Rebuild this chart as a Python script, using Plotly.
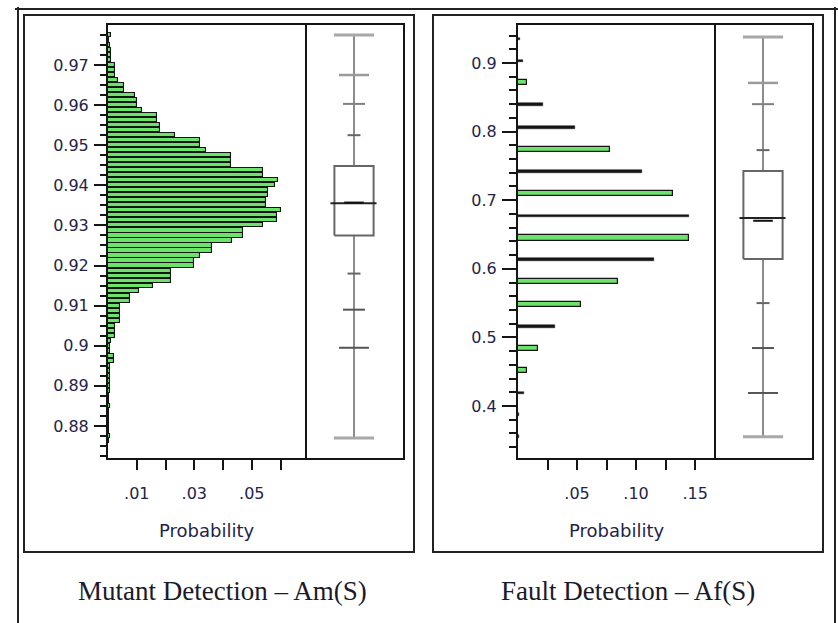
import plotly.graph_objects as go

# ---------------- data ----------------
# Mutant detection Am(S): histogram bins (centres) and probabilities
am_bins = [0.97750, 0.97625, 0.97500, 0.97375, 0.97250, 0.97125, 0.97000, 0.96875,
           0.96750, 0.96625, 0.96500, 0.96375, 0.96250, 0.96125, 0.96000, 0.95875,
           0.95750, 0.95625, 0.95500, 0.95375, 0.95250, 0.95125, 0.95000, 0.94875,
           0.94750, 0.94625, 0.94500, 0.94375, 0.94250, 0.94125, 0.94000, 0.93875,
           0.93750, 0.93625, 0.93500, 0.93375, 0.93250, 0.93125, 0.93000, 0.92875,
           0.92750, 0.92625, 0.92500, 0.92375, 0.92250, 0.92125, 0.92000, 0.91875,
           0.91750, 0.91625, 0.91500, 0.91375, 0.91250, 0.91125, 0.91000, 0.90875,
           0.90750, 0.90625, 0.90500, 0.90375, 0.90250, 0.90125, 0.90000, 0.89875,
           0.89750, 0.89625, 0.89500, 0.89375, 0.89250, 0.89125, 0.89000, 0.88875,
           0.88750, 0.88625, 0.88500, 0.88375, 0.88250, 0.88125, 0.88000, 0.87875,
           0.87750, 0.87625]
am_prob = [0.0012, 0.0004, 0.0008, 0.0010, 0.0010, 0.0012, 0.0024, 0.0024,
           0.0024, 0.0035, 0.0055, 0.0055, 0.0094, 0.0100, 0.0100, 0.0117,
           0.0170, 0.0170, 0.0180, 0.0180, 0.0234, 0.0320, 0.0320, 0.0340,
           0.0427, 0.0427, 0.0427, 0.0540, 0.0540, 0.0590, 0.0580, 0.0557,
           0.0557, 0.0550, 0.0550, 0.0600, 0.0587, 0.0587, 0.0540, 0.0470,
           0.0470, 0.0430, 0.0360, 0.0360, 0.0320, 0.0300, 0.0300, 0.0220,
           0.0220, 0.0220, 0.0157, 0.0108, 0.0076, 0.0076, 0.0041, 0.0041,
           0.0041, 0.0041, 0.0024, 0.0024, 0.0024, 0.0012, 0.0007, 0.0007,
           0.0020, 0.0020, 0.0008, 0.0006, 0.0008, 0.0006, 0.0008, 0.0008,
           0.0004, 0.0004, 0.0008, 0.0004, 0.0004, 0.0004, 0.0004, 0.0004,
           0.0008, 0.0004]
# quantiles: max, 99.5%, 97.5%, 90%, Q3, median, Q1, 10%, 2.5%, 0.5%, min
am_quant = [0.9775, 0.9675, 0.9603, 0.9525, 0.9448, 0.9355, 0.9275, 0.9180, 0.9090, 0.8995, 0.8770]
am_mean = 0.9357

# Fault detection Af(S)
af_bins = [0.935, 0.903, 0.871, 0.839, 0.806, 0.774, 0.742, 0.710, 0.677, 0.645,
           0.613, 0.581, 0.548, 0.516, 0.484, 0.452, 0.419, 0.387, 0.355]
af_prob = [0.002, 0.004, 0.008, 0.021, 0.048, 0.078, 0.105, 0.131, 0.145, 0.145,
           0.115, 0.085, 0.053, 0.031, 0.017, 0.008, 0.005, 0.001, 0.001]
af_quant = [0.938, 0.871, 0.840, 0.773, 0.7426, 0.674, 0.6143, 0.550, 0.4845, 0.419, 0.355]
af_mean = 0.670

# tick labels
am_yticks = [0.88, 0.89, 0.90, 0.91, 0.92, 0.93, 0.94, 0.95, 0.96, 0.97]
am_ytext = ["0.88", "0.89", "0.9", "0.91", "0.92", "0.93", "0.94", "0.95", "0.96", "0.97"]
am_xticks = [0.01, 0.02, 0.03, 0.04, 0.05, 0.06]
am_xtext = [".01", "", ".03", "", ".05", ""]
af_yticks = [0.4, 0.5, 0.6, 0.7, 0.8, 0.9]
af_ytext = ["0.4", "0.5", "0.6", "0.7", "0.8", "0.9"]
af_xticks = [0.025, 0.05, 0.075, 0.10, 0.125, 0.15]
af_xtext = ["", ".05", "", ".10", "", ".15"]

captions = ["Mutant Detection \u2013 Am(S)", "Fault Detection \u2013 Af(S)"]
xlabel = "Probability"

# ---------------- styling ----------------
W, H = 838, 623
GREEN = "#6ce46c"
DARK = "#151515"
af_bar_style = ["dark", "dark", "green", "dark", "dark", "green", "dark", "green", "dark", "green",
                "dark", "green", "green", "dark", "green", "green", "dark", "dark", "dark"]
TICKFONT = dict(family="DejaVu Sans", size=16, color="#23234a")


def px(x):
    return x / W


def py(y):
    return 1 - y / H


fig = go.Figure()

# left histogram
fig.add_trace(go.Bar(x=am_prob, y=am_bins, orientation="h", width=0.00125 * 0.82,
                     marker=dict(color=GREEN, line=dict(color=DARK, width=1.1)),
                     xaxis="x", yaxis="y", showlegend=False))

# right histogram (two drawing styles)
g_y = [b for b, s in zip(af_bins, af_bar_style) if s == "green"]
g_x = [p for p, s in zip(af_prob, af_bar_style) if s == "green"]
d_y = [b for b, s in zip(af_bins, af_bar_style) if s == "dark"]
d_x = [p for p, s in zip(af_prob, af_bar_style) if s == "dark"]
fig.add_trace(go.Bar(x=g_x, y=g_y, orientation="h", width=0.0075,
                     marker=dict(color=GREEN, line=dict(color=DARK, width=1.2)),
                     xaxis="x3", yaxis="y3", showlegend=False))
fig.add_trace(go.Bar(x=d_x, y=d_y, orientation="h", width=0.0042,
                     marker=dict(color=DARK, line=dict(color=DARK, width=0.5)),
                     xaxis="x3", yaxis="y3", showlegend=False))


def add_quantile_box(q, mean, xa, ya):
    mx, q995, q975, q90, q3, med, q1, q10, q025, q005, mn = q
    c = 0.5
    # whiskers
    fig.add_trace(go.Scatter(x=[c, c, None, c, c], y=[mx, q3, None, q1, mn], mode="lines",
                             line=dict(color="#8c8c8c", width=2), xaxis=xa, yaxis=ya,
                             showlegend=False, hoverinfo="skip"))
    # quantile hash marks
    hw = [(mx, 0.205, "#a8a8a8", 3), (q995, 0.153, "#9a9a9a", 2.5), (q975, 0.112, "#808080", 2),
          (q90, 0.066, "#666666", 2), (q10, 0.066, "#666666", 2), (q025, 0.112, "#555555", 2),
          (q005, 0.153, "#555555", 2), (mn, 0.205, "#a8a8a8", 3)]
    for v, w, col, lw in hw:
        fig.add_trace(go.Scatter(x=[c - w, c + w], y=[v, v], mode="lines",
                                 line=dict(color=col, width=lw), xaxis=xa, yaxis=ya,
                                 showlegend=False, hoverinfo="skip"))
    # box
    bw = 0.2
    fig.add_trace(go.Scatter(x=[c - bw, c + bw, c + bw, c - bw, c - bw], y=[q1, q1, q3, q3, q1],
                             mode="lines", line=dict(color="#666666", width=2), xaxis=xa, yaxis=ya,
                             showlegend=False, hoverinfo="skip"))
    # median
    fig.add_trace(go.Scatter(x=[c - bw - 0.04, c + bw + 0.03], y=[med, med], mode="lines",
                             line=dict(color="#222222", width=2), xaxis=xa, yaxis=ya,
                             showlegend=False, hoverinfo="skip"))
    # mean
    fig.add_trace(go.Scatter(x=[c - 0.1, c + 0.1], y=[mean, mean], mode="lines",
                             line=dict(color="#111111", width=2), xaxis=xa, yaxis=ya,
                             showlegend=False, hoverinfo="skip"))


add_quantile_box(am_quant, am_mean, "x2", "y2")
add_quantile_box(af_quant, af_mean, "x4", "y4")

ydom = [py(458), py(25)]
am_yrange = [0.87202, 0.97997]
af_yrange = [0.3242, 0.9554]

line_common = dict(showline=True, linewidth=2, linecolor=DARK, mirror=True,
                   showgrid=False, zeroline=False)
box_x = dict(showline=True, linewidth=2, linecolor=DARK, mirror=True, showgrid=False,
             zeroline=False, showticklabels=False, ticks="", range=[0, 1])
box_y = dict(showline=True, linewidth=2, linecolor=DARK, mirror=False, side="right",
             showgrid=False, zeroline=False, showticklabels=False, ticks="")

fig.update_layout(
    width=W, height=H, margin=dict(l=0, r=0, t=0, b=0), autosize=False,
    paper_bgcolor="white", plot_bgcolor="white", bargap=0,
    xaxis=dict(domain=[px(108), px(305)], anchor="y", range=[0, 0.0685], **line_common,
               ticks="outside", ticklen=10, tickwidth=2, tickcolor=DARK,
               tickmode="array", tickvals=am_xticks, ticktext=am_xtext,
               tickfont=TICKFONT, ticklabelstandoff=10),
    yaxis=dict(domain=ydom, anchor="x", range=am_yrange, **line_common,
               ticks="outside", ticklen=12, tickwidth=2, tickcolor=DARK,
               tickmode="array", tickvals=am_yticks, ticktext=am_ytext,
               tickfont=TICKFONT, ticklabelstandoff=2,
               minor=dict(ticks="outside", ticklen=6, tickwidth=2, tickcolor=DARK,
                          tickmode="linear", tick0=0.88, dtick=0.0025, showgrid=False)),
    xaxis2=dict(domain=[px(305), px(403)], anchor="y2", **box_x),
    yaxis2=dict(domain=ydom, anchor="x2", range=am_yrange, **box_y),
    xaxis3=dict(domain=[px(518), px(714)], anchor="y3", range=[0, 0.166], **line_common,
                ticks="outside", ticklen=10, tickwidth=2, tickcolor=DARK,
                tickmode="array", tickvals=af_xticks, ticktext=af_xtext,
                tickfont=TICKFONT, ticklabelstandoff=10),
    yaxis3=dict(domain=ydom, anchor="x3", range=af_yrange, **line_common,
                ticks="outside", ticklen=14, tickwidth=2, tickcolor=DARK,
                tickmode="array", tickvals=af_yticks, ticktext=af_ytext,
                tickfont=TICKFONT, ticklabelstandoff=2,
                minor=dict(ticks="outside", ticklen=7, tickwidth=2, tickcolor=DARK,
                           tickmode="linear", tick0=0.4, dtick=0.02, showgrid=False)),
    xaxis4=dict(domain=[px(714), px(812)], anchor="y4", **box_x),
    yaxis4=dict(domain=ydom, anchor="x4", range=af_yrange, **box_y),
)

# frames
FR = dict(color="#222222", width=2)
shapes = [
    dict(type="line", xref="paper", yref="paper", x0=px(15), x1=px(838), y0=py(9), y1=py(9), line=FR),
    dict(type="line", xref="paper", yref="paper", x0=px(18), x1=px(18), y0=py(7), y1=py(623), line=FR),
    dict(type="line", xref="paper", yref="paper", x0=px(835), x1=px(835), y0=py(7), y1=py(623), line=FR),
    dict(type="rect", xref="paper", yref="paper", x0=px(24), x1=px(414), y0=py(552), y1=py(15), line=FR),
    dict(type="rect", xref="paper", yref="paper", x0=px(433), x1=px(823), y0=py(552), y1=py(15), line=FR),
]
fig.update_layout(shapes=shapes)

LABFONT = dict(family="DejaVu Sans", size=18, color="#23234a")
CAPFONT = dict(family="Liberation Serif", size=27, color="#1a1a2a")
ann = [
    dict(text=xlabel, x=px(206.5), y=py(530), xref="paper", yref="paper", showarrow=False,
         xanchor="center", yanchor="middle", font=LABFONT),
    dict(text=xlabel, x=px(616), y=py(530), xref="paper", yref="paper", showarrow=False,
         xanchor="center", yanchor="middle", font=LABFONT),
    dict(text=captions[0], x=px(223), y=py(591), xref="paper", yref="paper", showarrow=False,
         xanchor="center", yanchor="middle", font=CAPFONT),
    dict(text=captions[1], x=px(628), y=py(591), xref="paper", yref="paper", showarrow=False,
         xanchor="center", yanchor="middle", font=CAPFONT),
]
fig.update_layout(annotations=ann)

fig.write_html("out.html", config={"displayModeBar": False},
               post_script="document.body.style.margin='0';document.body.style.padding='0';")
